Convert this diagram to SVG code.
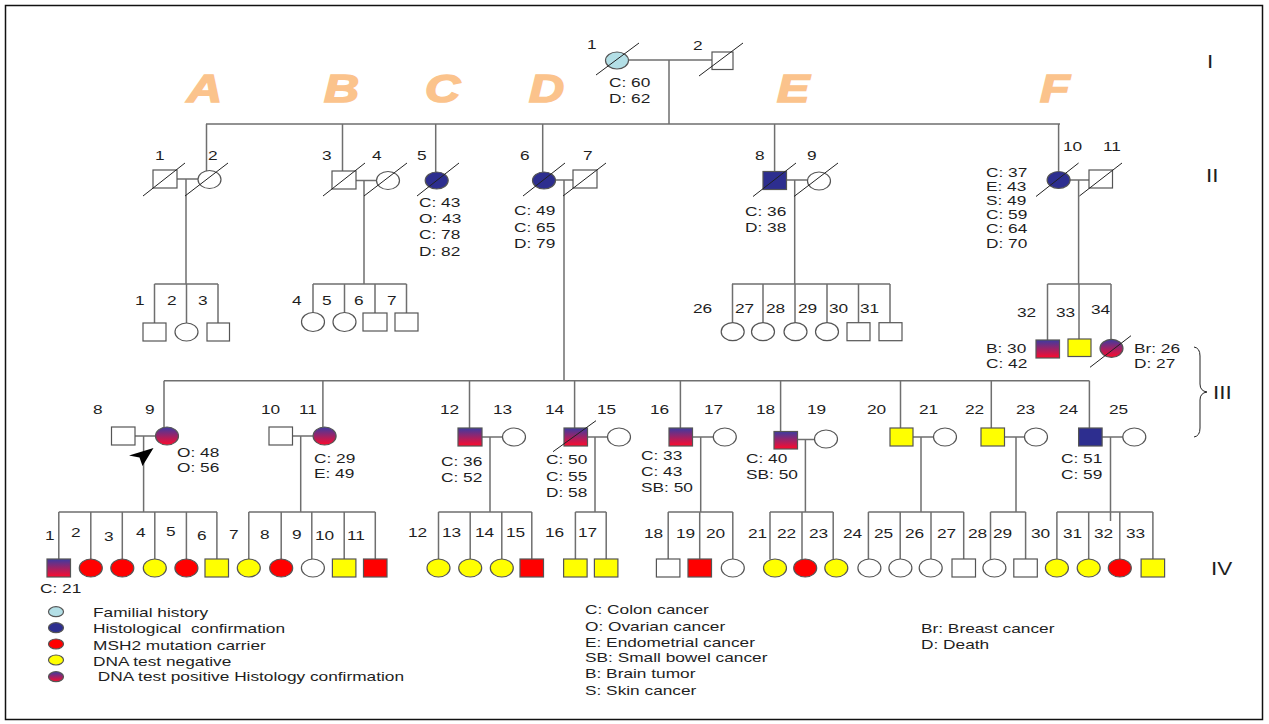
<svg xmlns="http://www.w3.org/2000/svg" width="1269" height="724" viewBox="0 0 1269 724">
<defs>
  <linearGradient id="posHist" x1="0" y1="0" x2="0" y2="1">
    <stop offset="0" stop-color="#3c3ba2"/>
    <stop offset="1" stop-color="#ff0a2c"/>
  </linearGradient>
  <style>
    .ln{stroke:#6f6f6f;stroke-width:1.5;fill:none}
    .sl{stroke:#222;stroke-width:1;fill:none}
    .sq,.ci{stroke:#555;stroke-width:1.2}
    .w{fill:#fff}.nv{fill:#2d2e8f}.rd{fill:#ff0000}.ye{fill:#ffff00}.fh{fill:#b3dfe6}.gr{fill:url(#posHist)}
    .t{font-family:"Liberation Sans",Arial,sans-serif;font-size:13.5px;fill:#1e1e1e}
    .r{font-family:"Liberation Sans",Arial,sans-serif;font-size:18px;fill:#1e1e1e}
    .g{font-family:"Liberation Sans",Arial,sans-serif;font-size:38px;font-weight:bold;font-style:italic;fill:#fbc38c;stroke:#fbc38c;stroke-width:1.6}
  </style>
</defs>
<rect x="5.5" y="5.5" width="1257" height="714" fill="#fff" stroke="#111" stroke-width="1.5"/>

<!-- branch letters and generation numerals -->
<g id="branches">
  <text class="g" transform="translate(187,102) scale(1.28,1)">A</text>
  <text class="g" transform="translate(324,102) scale(1.28,1)">B</text>
  <text class="g" transform="translate(425,102) scale(1.28,1)">C</text>
  <text class="g" transform="translate(529,102) scale(1.28,1)">D</text>
  <text class="g" transform="translate(777,102) scale(1.28,1)">E</text>
  <text class="g" transform="translate(1040,102) scale(1.28,1)">F</text>
</g>
<g id="generations">
  <text class="r" transform="translate(1207,68) scale(1.25,1)">I</text>
  <text class="r" transform="translate(1206,182) scale(1.25,1)">II</text>
  <text class="r" transform="translate(1213,399) scale(1.25,1)">III</text>
  <text class="r" transform="translate(1211,575) scale(1.25,1)">IV</text>
  <path class="sl" d="M1194,347 Q1200,348 1200,356 L1200,384 Q1200,391 1207,392 Q1200,393 1200,400 L1200,428 Q1200,436 1194,437" stroke="#666"/>
</g>

<!-- connecting lines -->
<g id="connectors">
  <!-- generation I -->
  <path class="ln" d="M629,60 H712 M669,60 V124"/>
  <!-- generation II sibship -->
  <path class="ln" d="M206,124 H1060 M206.5,124 V171 M342.5,124 V171 M435.7,124 V172 M542.7,124 V172 M774.6,124 V171.5 M1058.6,124 V171"/>
  <!-- II couples and descents -->
  <path class="ln" d="M177,179 H198 M186,179 V284 M154.5,284 H218 M154.5,284 V323 M186.5,284 V323 M218,284 V323"/>
  <path class="ln" d="M356,180.5 H376.5 M364,180.5 V284 M313,284 H406.5 M313,284 V313 M344.5,284 V313 M375,284 V313 M406.5,284 V313"/>
  <path class="ln" d="M556,180 H573 M564,180 V380.7"/>
  <path class="ln" d="M786.4,180 H807.5 M794.7,180 V284 M732,284 H890 M732.5,284 V322.7 M763,284 V322.7 M795,284 V322.7 M827,284 V322.7 M858.5,284 V322.7 M890,284 V322.7"/>
  <path class="ln" d="M1070,180 H1089 M1078.6,180 V284 M1047.5,284 H1111 M1047.5,284 V340 M1079,284 V339 M1111,284 V339.5"/>
  <!-- generation III sibship -->
  <path class="ln" d="M164,380.7 H1089.4 M164,380.7 V427 M322.9,380.7 V427 M469.5,380.7 V428 M574.6,380.7 V428 M680.4,380.7 V428 M780.6,380.7 V431.5 M900.5,380.7 V428 M991.3,380.7 V428 M1089.4,380.7 V428"/>
  <!-- III couples and descents to generation IV -->
  <path class="ln" d="M135,436 H155.7 M143.6,436 V512 M58.8,512 H217 M58.8,512 V559 M90.8,512 V559 M122.3,512 V559 M154.8,512 V559 M186.4,512 V559 M216.9,512 V559"/>
  <path class="ln" d="M292.5,436 H313 M300.7,436 V512 M248.8,512 H375.3 M248.8,512 V559 M281.2,512 V559 M311.8,512 V559 M344.2,512 V559 M375.3,512 V559"/>
  <path class="ln" d="M482,437 H502.5 M490,437 V512 M438.5,512 H531.8 M438.5,512 V559 M470.2,512 V559 M501.8,512 V559 M531.8,512 V559"/>
  <path class="ln" d="M587.5,437 H608 M595,437 V512 M575.4,512 H606.2 M575.4,512 V559 M606.2,512 V559"/>
  <path class="ln" d="M692.4,437 H713 M700.7,437 V512 M668.2,512 H732.8 M668.2,512 V559 M699.7,512 V559 M732.8,512 V559"/>
  <path class="ln" d="M797.5,439.5 H814.5 M805.4,439.5 V512 M770,512 H833.2 M770,512 V559.5 M802,512 V559 M833.2,512 V559.5"/>
  <path class="ln" d="M913,437 H933.7 M921,437 V512 M868.4,512 H963.7 M868.4,512 V559 M900.2,512 V559 M931,512 V559 M963.7,512 V559"/>
  <path class="ln" d="M1004.5,437 H1024.8 M1016,437 V512 M990.5,512 H1025.6 M990.5,512 V560 M1025.6,512 V559"/>
  <path class="ln" d="M1102,437 H1123 M1110.5,437 V521 M1056.9,512 H1152.9 M1056.9,512 V559 M1088.7,512 V559 M1119.8,512 V559 M1152.9,512 V559"/>
  <!-- proband arrow -->
  <polygon points="153.5,448 129,455.5 139.5,457.5 142.5,466" fill="#000"/>
</g>

<!-- generation I -->
<g id="I-1"><text class="t" transform="translate(587,49) scale(1.28,1)">1</text><ellipse class="ci fh" cx="617" cy="60.5" rx="11.5" ry="8.5"/><line class="sl" x1="596" y1="75" x2="639" y2="43"/><text class="t" transform="translate(609,87) scale(1.28,1)">C: 60</text><text class="t" transform="translate(609,103) scale(1.28,1)">D: 62</text></g>
<g id="I-2"><text class="t" transform="translate(693,50) scale(1.28,1)">2</text><rect class="sq w" x="712" y="52" width="21" height="17.5"/><line class="sl" x1="699" y1="76" x2="743" y2="43"/></g>

<!-- generation II -->
<g id="II-1"><text class="t" transform="translate(155,160) scale(1.28,1)">1</text><rect class="sq w" x="153" y="170" width="24" height="18"/><line class="sl" x1="143" y1="196" x2="185" y2="163"/></g>
<g id="II-2"><text class="t" transform="translate(208,160) scale(1.28,1)">2</text><ellipse class="ci w" cx="209.5" cy="179.5" rx="11.5" ry="9"/><line class="sl" x1="185" y1="196" x2="228" y2="163"/></g>
<g id="II-3"><text class="t" transform="translate(322,160) scale(1.28,1)">3</text><rect class="sq w" x="332" y="171" width="24" height="18"/><line class="sl" x1="323" y1="196" x2="365" y2="163"/></g>
<g id="II-4"><text class="t" transform="translate(372,160) scale(1.28,1)">4</text><ellipse class="ci w" cx="388" cy="180.5" rx="11.5" ry="9"/><line class="sl" x1="364" y1="196" x2="407" y2="163"/></g>
<g id="II-5"><text class="t" transform="translate(417,160) scale(1.28,1)">5</text><ellipse class="ci nv" cx="436.7" cy="180.5" rx="11.5" ry="8.5"/><line class="sl" x1="417" y1="196" x2="459" y2="163"/>
  <text class="t" transform="translate(419,206.5) scale(1.28,1)">C: 43</text><text class="t" transform="translate(419,223) scale(1.28,1)">O: 43</text><text class="t" transform="translate(419,239) scale(1.28,1)">C: 78</text><text class="t" transform="translate(419,255.5) scale(1.28,1)">D: 82</text></g>
<g id="II-6"><text class="t" transform="translate(520,160) scale(1.28,1)">6</text><ellipse class="ci nv" cx="544" cy="180.5" rx="11.5" ry="8.5"/><line class="sl" x1="523" y1="196" x2="565" y2="163"/>
  <text class="t" transform="translate(514,215) scale(1.28,1)">C: 49</text><text class="t" transform="translate(514,231.5) scale(1.28,1)">C: 65</text><text class="t" transform="translate(514,247.5) scale(1.28,1)">D: 79</text></g>
<g id="II-7"><text class="t" transform="translate(583,160) scale(1.28,1)">7</text><rect class="sq w" x="573" y="170" width="24" height="18"/><line class="sl" x1="563" y1="196" x2="606" y2="163"/></g>
<g id="II-8"><text class="t" transform="translate(755,160) scale(1.28,1)">8</text><rect class="sq nv" x="763" y="171.5" width="23.5" height="18"/><line class="sl" x1="753" y1="196.5" x2="796" y2="163"/>
  <text class="t" transform="translate(745,215.5) scale(1.28,1)">C: 36</text><text class="t" transform="translate(745,231.5) scale(1.28,1)">D: 38</text></g>
<g id="II-9"><text class="t" transform="translate(807,160) scale(1.28,1)">9</text><ellipse class="ci w" cx="819" cy="181" rx="11.5" ry="9"/><line class="sl" x1="794" y1="196.5" x2="838" y2="163"/></g>
<g id="II-10"><text class="t" transform="translate(1063,151) scale(1.28,1)">10</text><ellipse class="ci nv" cx="1058.6" cy="180" rx="11.5" ry="8.5"/><line class="sl" x1="1036" y1="196.5" x2="1078.6" y2="163"/>
  <text class="t" transform="translate(986,176.5) scale(1.28,1)">C: 37</text><text class="t" transform="translate(986,190.5) scale(1.28,1)">E: 43</text><text class="t" transform="translate(986,205) scale(1.28,1)">S: 49</text><text class="t" transform="translate(986,219) scale(1.28,1)">C: 59</text><text class="t" transform="translate(986,233) scale(1.28,1)">C: 64</text><text class="t" transform="translate(986,248) scale(1.28,1)">D: 70</text></g>
<g id="II-11"><text class="t" transform="translate(1103,151) scale(1.28,1)">11</text><rect class="sq w" x="1089" y="170" width="23.5" height="18"/><line class="sl" x1="1079.4" y1="196" x2="1122" y2="163"/></g>

<!-- generation III, children of II-1/II-2 and II-3/II-4 -->
<g id="A-III-1"><text class="t" transform="translate(135,305) scale(1.28,1)">1</text><rect class="sq w" x="143" y="323" width="23" height="18"/></g>
<g id="A-III-2"><text class="t" transform="translate(167,305) scale(1.28,1)">2</text><ellipse class="ci w" cx="186.5" cy="332" rx="11.5" ry="9"/></g>
<g id="A-III-3"><text class="t" transform="translate(198,305) scale(1.28,1)">3</text><rect class="sq w" x="207" y="323" width="22.5" height="18"/></g>
<g id="B-III-4"><text class="t" transform="translate(292,305) scale(1.28,1)">4</text><ellipse class="ci w" cx="313" cy="322" rx="11.5" ry="9.5"/></g>
<g id="B-III-5"><text class="t" transform="translate(322,305) scale(1.28,1)">5</text><ellipse class="ci w" cx="344.5" cy="322" rx="11.5" ry="9.5"/></g>
<g id="B-III-6"><text class="t" transform="translate(354,305) scale(1.28,1)">6</text><rect class="sq w" x="363" y="313" width="24" height="18"/></g>
<g id="B-III-7"><text class="t" transform="translate(387,305) scale(1.28,1)">7</text><rect class="sq w" x="395" y="313" width="23" height="18"/></g>

<!-- generation III, children of II-8/II-9 -->
<g id="E-III-26"><text class="t" transform="translate(693,313) scale(1.28,1)">26</text><ellipse class="ci w" cx="732.7" cy="331.7" rx="11.5" ry="9"/></g>
<g id="E-III-27"><text class="t" transform="translate(735,313) scale(1.28,1)">27</text><ellipse class="ci w" cx="763" cy="331.7" rx="11.5" ry="9"/></g>
<g id="E-III-28"><text class="t" transform="translate(766,313) scale(1.28,1)">28</text><ellipse class="ci w" cx="795.5" cy="331.7" rx="11.5" ry="9"/></g>
<g id="E-III-29"><text class="t" transform="translate(798,313) scale(1.28,1)">29</text><ellipse class="ci w" cx="827" cy="331.7" rx="11.5" ry="9"/></g>
<g id="E-III-30"><text class="t" transform="translate(829,313) scale(1.28,1)">30</text><rect class="sq w" x="847" y="322.7" width="23" height="18"/></g>
<g id="E-III-31"><text class="t" transform="translate(860,313) scale(1.28,1)">31</text><rect class="sq w" x="879" y="322.7" width="23" height="18"/></g>

<!-- generation III, children of II-10/II-11 -->
<g id="F-III-32"><text class="t" transform="translate(1017,316.5) scale(1.28,1)">32</text><rect class="sq gr" x="1036" y="340" width="23.5" height="18"/>
  <text class="t" transform="translate(986,352.5) scale(1.28,1)">B: 30</text><text class="t" transform="translate(986,368) scale(1.28,1)">C: 42</text></g>
<g id="F-III-33"><text class="t" transform="translate(1056,316.5) scale(1.28,1)">33</text><rect class="sq ye" x="1068" y="339" width="23" height="17.5"/></g>
<g id="F-III-34"><text class="t" transform="translate(1091,314) scale(1.28,1)">34</text><ellipse class="ci gr" cx="1111.5" cy="348.3" rx="11.5" ry="9"/><line class="sl" x1="1090" y1="367.3" x2="1131" y2="335.7"/>
  <text class="t" transform="translate(1134,352.5) scale(1.28,1)">Br: 26</text><text class="t" transform="translate(1134,368) scale(1.28,1)">D: 27</text></g>

<!-- generation III, children of II-6/II-7 and spouses -->
<g id="III-8"><text class="t" transform="translate(93,414) scale(1.28,1)">8</text><rect class="sq w" x="111.5" y="427" width="23.5" height="18"/></g>
<g id="III-9"><text class="t" transform="translate(145,414) scale(1.28,1)">9</text><ellipse class="ci gr" cx="167" cy="436" rx="11.5" ry="9"/>
  <text class="t" transform="translate(177,456.5) scale(1.28,1)">O: 48</text><text class="t" transform="translate(177,472) scale(1.28,1)">O: 56</text></g>
<g id="III-10"><text class="t" transform="translate(261,414) scale(1.28,1)">10</text><rect class="sq w" x="269" y="427" width="23.5" height="18"/></g>
<g id="III-11"><text class="t" transform="translate(299,414) scale(1.28,1)">11</text><ellipse class="ci gr" cx="324.6" cy="436" rx="11.5" ry="9"/>
  <text class="t" transform="translate(314,463) scale(1.28,1)">C: 29</text><text class="t" transform="translate(314,478) scale(1.28,1)">E: 49</text></g>
<g id="III-12"><text class="t" transform="translate(440,414) scale(1.28,1)">12</text><rect class="sq gr" x="458" y="428" width="24" height="18"/>
  <text class="t" transform="translate(441,465.5) scale(1.28,1)">C: 36</text><text class="t" transform="translate(441,482) scale(1.28,1)">C: 52</text></g>
<g id="III-13"><text class="t" transform="translate(493,414) scale(1.28,1)">13</text><ellipse class="ci w" cx="514" cy="437" rx="11.5" ry="9"/></g>
<g id="III-14"><text class="t" transform="translate(545,414) scale(1.28,1)">14</text><rect class="sq gr" x="564" y="428" width="23.5" height="18"/><line class="sl" x1="553" y1="451.7" x2="596" y2="420.7"/>
  <text class="t" transform="translate(546,464) scale(1.28,1)">C: 50</text><text class="t" transform="translate(546,481) scale(1.28,1)">C: 55</text><text class="t" transform="translate(546,496.5) scale(1.28,1)">D: 58</text></g>
<g id="III-15"><text class="t" transform="translate(597,414) scale(1.28,1)">15</text><ellipse class="ci w" cx="619" cy="437" rx="11.5" ry="9"/></g>
<g id="III-16"><text class="t" transform="translate(650,414) scale(1.28,1)">16</text><rect class="sq gr" x="669" y="428" width="23.5" height="18"/>
  <text class="t" transform="translate(641,460) scale(1.28,1)">C: 33</text><text class="t" transform="translate(641,475.5) scale(1.28,1)">C: 43</text><text class="t" transform="translate(641,491.5) scale(1.28,1)">SB: 50</text></g>
<g id="III-17"><text class="t" transform="translate(704,414) scale(1.28,1)">17</text><ellipse class="ci w" cx="724.8" cy="437" rx="11.5" ry="9"/></g>
<g id="III-18"><text class="t" transform="translate(756,414) scale(1.28,1)">18</text><rect class="sq gr" x="774" y="431.5" width="23.5" height="17.5"/>
  <text class="t" transform="translate(746,463) scale(1.28,1)">C: 40</text><text class="t" transform="translate(746,479) scale(1.28,1)">SB: 50</text></g>
<g id="III-19"><text class="t" transform="translate(807,414) scale(1.28,1)">19</text><ellipse class="ci w" cx="826" cy="439" rx="11.5" ry="9"/></g>
<g id="III-20"><text class="t" transform="translate(867,414) scale(1.28,1)">20</text><rect class="sq ye" x="890" y="428" width="23" height="18"/></g>
<g id="III-21"><text class="t" transform="translate(919,414) scale(1.28,1)">21</text><ellipse class="ci w" cx="945" cy="437" rx="11.5" ry="9"/></g>
<g id="III-22"><text class="t" transform="translate(965,414) scale(1.28,1)">22</text><rect class="sq ye" x="981" y="428" width="23.5" height="18"/></g>
<g id="III-23"><text class="t" transform="translate(1016,414) scale(1.28,1)">23</text><ellipse class="ci w" cx="1036" cy="437" rx="11.5" ry="9"/></g>
<g id="III-24"><text class="t" transform="translate(1059,414) scale(1.28,1)">24</text><rect class="sq nv" x="1078.6" y="428" width="23.5" height="18"/>
  <text class="t" transform="translate(1061,463) scale(1.28,1)">C: 51</text><text class="t" transform="translate(1061,479) scale(1.28,1)">C: 59</text></g>
<g id="III-25"><text class="t" transform="translate(1109,414) scale(1.28,1)">25</text><ellipse class="ci w" cx="1134.3" cy="437" rx="11.5" ry="9"/></g>

<!-- generation IV -->
<g id="IV-1"><text class="t" transform="translate(45,540) scale(1.28,1)">1</text><rect class="sq gr" x="47" y="559" width="23.5" height="18"/><text class="t" transform="translate(40,593) scale(1.28,1)">C: 21</text></g>
<g id="IV-2"><text class="t" transform="translate(71,537) scale(1.28,1)">2</text><ellipse class="ci rd" cx="90.8" cy="568" rx="11.5" ry="9"/></g>
<g id="IV-3"><text class="t" transform="translate(104,541) scale(1.28,1)">3</text><ellipse class="ci rd" cx="122.3" cy="568" rx="11.5" ry="9"/></g>
<g id="IV-4"><text class="t" transform="translate(136,537) scale(1.28,1)">4</text><ellipse class="ci ye" cx="154.8" cy="568" rx="11.5" ry="9"/></g>
<g id="IV-5"><text class="t" transform="translate(166,536) scale(1.28,1)">5</text><ellipse class="ci rd" cx="186.4" cy="568" rx="11.5" ry="9"/></g>
<g id="IV-6"><text class="t" transform="translate(197,540) scale(1.28,1)">6</text><rect class="sq ye" x="205" y="559" width="23.5" height="18"/></g>
<g id="IV-7"><text class="t" transform="translate(229,539) scale(1.28,1)">7</text><ellipse class="ci ye" cx="248.8" cy="568" rx="11.5" ry="9"/></g>
<g id="IV-8"><text class="t" transform="translate(260,539) scale(1.28,1)">8</text><ellipse class="ci rd" cx="281.2" cy="568" rx="11.5" ry="9"/></g>
<g id="IV-9"><text class="t" transform="translate(292,539) scale(1.28,1)">9</text><ellipse class="ci w" cx="312.9" cy="568" rx="11.5" ry="9"/></g>
<g id="IV-10"><text class="t" transform="translate(315,540) scale(1.28,1)">10</text><rect class="sq ye" x="332.4" y="559" width="23.5" height="18"/></g>
<g id="IV-11"><text class="t" transform="translate(347,540) scale(1.28,1)">11</text><rect class="sq rd" x="363.5" y="559" width="23.5" height="18"/></g>
<g id="IV-12"><text class="t" transform="translate(408,537) scale(1.28,1)">12</text><ellipse class="ci ye" cx="438.5" cy="568" rx="11.5" ry="9"/></g>
<g id="IV-13"><text class="t" transform="translate(442,537) scale(1.28,1)">13</text><ellipse class="ci ye" cx="470.2" cy="568" rx="11.5" ry="9"/></g>
<g id="IV-14"><text class="t" transform="translate(475,537) scale(1.28,1)">14</text><ellipse class="ci ye" cx="501.8" cy="568" rx="11.5" ry="9"/></g>
<g id="IV-15"><text class="t" transform="translate(506,537) scale(1.28,1)">15</text><rect class="sq rd" x="520" y="559" width="23.5" height="18"/></g>
<g id="IV-16"><text class="t" transform="translate(545,537) scale(1.28,1)">16</text><rect class="sq ye" x="563.6" y="559" width="23.5" height="18"/></g>
<g id="IV-17"><text class="t" transform="translate(578,537) scale(1.28,1)">17</text><rect class="sq ye" x="594.4" y="559" width="23.5" height="18"/></g>
<g id="IV-18"><text class="t" transform="translate(644,538) scale(1.28,1)">18</text><rect class="sq w" x="656.4" y="559" width="23.5" height="18"/></g>
<g id="IV-19"><text class="t" transform="translate(676,538) scale(1.28,1)">19</text><rect class="sq rd" x="688" y="559" width="23.5" height="18"/></g>
<g id="IV-20"><text class="t" transform="translate(706,538) scale(1.28,1)">20</text><ellipse class="ci w" cx="732.8" cy="568" rx="11.5" ry="9"/></g>
<g id="IV-21"><text class="t" transform="translate(748,538) scale(1.28,1)">21</text><ellipse class="ci ye" cx="775" cy="568" rx="11.5" ry="9"/></g>
<g id="IV-22"><text class="t" transform="translate(777,538) scale(1.28,1)">22</text><ellipse class="ci rd" cx="805.2" cy="568" rx="11.5" ry="9"/></g>
<g id="IV-23"><text class="t" transform="translate(809,538) scale(1.28,1)">23</text><ellipse class="ci ye" cx="836.3" cy="568" rx="11.5" ry="9"/></g>
<g id="IV-24"><text class="t" transform="translate(843,538) scale(1.28,1)">24</text><ellipse class="ci w" cx="869.4" cy="568" rx="11.5" ry="9"/></g>
<g id="IV-25"><text class="t" transform="translate(874,538) scale(1.28,1)">25</text><ellipse class="ci w" cx="900.4" cy="568" rx="11.5" ry="9"/></g>
<g id="IV-26"><text class="t" transform="translate(905,538) scale(1.28,1)">26</text><ellipse class="ci w" cx="930.7" cy="568" rx="11.5" ry="9"/></g>
<g id="IV-27"><text class="t" transform="translate(937,538) scale(1.28,1)">27</text><rect class="sq w" x="952" y="559" width="23.5" height="18"/></g>
<g id="IV-28"><text class="t" transform="translate(968,538) scale(1.28,1)">28</text><ellipse class="ci w" cx="994.4" cy="568" rx="11.5" ry="9"/></g>
<g id="IV-29"><text class="t" transform="translate(993,538) scale(1.28,1)">29</text><rect class="sq w" x="1013.8" y="559" width="23.5" height="18"/></g>
<g id="IV-30"><text class="t" transform="translate(1031,538) scale(1.28,1)">30</text><ellipse class="ci ye" cx="1056.9" cy="568" rx="11.5" ry="9"/></g>
<g id="IV-31"><text class="t" transform="translate(1063,538) scale(1.28,1)">31</text><ellipse class="ci ye" cx="1088.7" cy="568" rx="11.5" ry="9"/></g>
<g id="IV-32"><text class="t" transform="translate(1094,538) scale(1.28,1)">32</text><ellipse class="ci rd" cx="1119.8" cy="568" rx="11.5" ry="9"/></g>
<g id="IV-33"><text class="t" transform="translate(1126,538) scale(1.28,1)">33</text><rect class="sq ye" x="1141.1" y="559" width="23.5" height="18"/></g>

<!-- legend -->
<g id="legend">
  <ellipse class="ci fh" cx="56" cy="611.7" rx="7.5" ry="5"/>
  <ellipse class="ci nv" cx="56" cy="627.7" rx="7.5" ry="5"/>
  <ellipse class="ci rd" cx="56" cy="644" rx="7.5" ry="5"/>
  <ellipse class="ci ye" cx="56" cy="660" rx="7.5" ry="5"/>
  <ellipse class="ci gr" cx="56" cy="676.7" rx="7.5" ry="5"/>
  <text class="t" transform="translate(93,616.5) scale(1.28,1)">Familial history</text>
  <text class="t" transform="translate(93,632.5) scale(1.28,1)" style="white-space:pre">Histological  confirmation</text>
  <text class="t" transform="translate(93,649.5) scale(1.28,1)">MSH2 mutation carrier</text>
  <text class="t" transform="translate(93,666) scale(1.28,1)">DNA test negative</text>
  <text class="t" transform="translate(93,681) scale(1.28,1)" style="white-space:pre"> DNA test positive Histology confirmation</text>
  <text class="t" transform="translate(585,614) scale(1.28,1)">C: Colon cancer</text>
  <text class="t" transform="translate(585,630.5) scale(1.28,1)">O: Ovarian cancer</text>
  <text class="t" transform="translate(585,646.5) scale(1.28,1)">E: Endometrial cancer</text>
  <text class="t" transform="translate(585,662) scale(1.28,1)">SB: Small bowel cancer</text>
  <text class="t" transform="translate(585,678) scale(1.28,1)">B: Brain tumor</text>
  <text class="t" transform="translate(585,694.5) scale(1.28,1)">S: Skin cancer</text>
  <text class="t" transform="translate(921,633) scale(1.28,1)">Br: Breast cancer</text>
  <text class="t" transform="translate(921,649) scale(1.28,1)">D: Death</text>
</g>
</svg>
